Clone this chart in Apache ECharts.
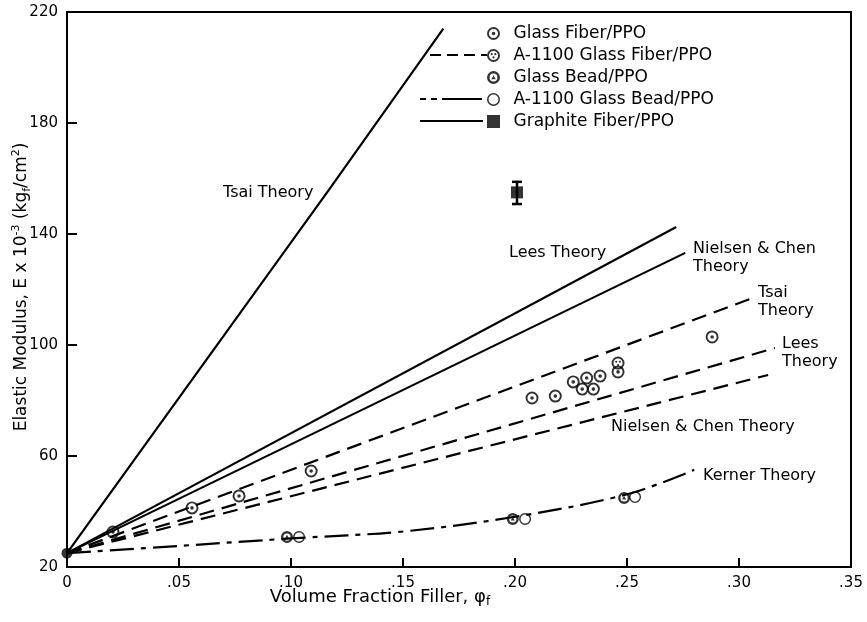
<!DOCTYPE html>
<html>
<head>
<meta charset="utf-8">
<script src="https://cdn.jsdelivr.net/npm/echarts@6/dist/echarts.min.js"></script>
<style>
  html, body { margin: 0; padding: 0; background: #fff; }
  #chart { width: 867px; height: 622px; }
</style>
</head>
<body>
<div id="chart"></div>
<script>
// ---- Axis ticks ----
const xTicks = [0, 0.05, 0.10, 0.15, 0.20, 0.25, 0.30, 0.35];
const xTickLabels = ['0', '.05', '.10', '.15', '.20', '.25', '.30', '.35'];
const yTicks = [20, 60, 100, 140, 180, 220];

// ---- Theory curves (volume fraction, modulus x 10^-3 kgf/cm2) ----
const tsaiFiberPhi = [0, 0.117, 0.168];
const tsaiFiberE = [25, 156, 214];
const leesFiberPhi = [0, 0.272];
const leesFiberE = [25, 142.5];
const nielsenFiberPhi = [0, 0.276];
const nielsenFiberE = [25, 133.2];
const tsaiA1100Phi = [0, 0.305];
const tsaiA1100E = [25, 116.6];
const leesA1100Phi = [0, 0.316];
const leesA1100E = [25, 98.9];
const nielsenA1100Phi = [0, 0.313];
const nielsenA1100E = [25, 89.2];
const kernerPhi = [0, 0.05, 0.10, 0.15, 0.20, 0.25, 0.28];
const kernerE = [25, 27.6, 30.3, 32.8, 38.1, 46.2, 55];

// ---- Measured points ----
const matrixPhi = [0];
const matrixE = [25];
const glassFiberPhi = [0.0205, 0.0558, 0.0768, 0.109, 0.2076, 0.218, 0.226, 0.230, 0.232, 0.235, 0.238, 0.246, 0.288];
const glassFiberE = [32.6, 41.3, 45.6, 54.6, 80.9, 81.6, 86.7, 84.1, 88.1, 84.1, 88.8, 90.3, 102.9];
const a1100FiberPhi = [0.246];
const a1100FiberE = [93.5];
const glassBeadPhi = [0.0982, 0.199, 0.2487];
const glassBeadE = [30.8, 37.3, 44.9];
const a1100BeadPhi = [0.1036, 0.2045, 0.2536];
const a1100BeadE = [30.8, 37.3, 45.2];
const graphitePhi = [0.2009];
const graphiteE = [155];
const graphiteLow = [150.8];
const graphiteHigh = [158.8];

const seriesNames = [
  'Glass Fiber/PPO',
  'A-1100 Glass Fiber/PPO',
  'Glass Bead/PPO',
  'A-1100 Glass Bead/PPO',
  'Graphite Fiber/PPO'
];

const FONT = "'DejaVu Sans', sans-serif";

function pairs(xs, ys) { return xs.map((x, i) => [x, ys[i]]); }

// circle sub-path in a 20x20 box; cw=true for outer fill, false for a hole
function circ(cx, cy, r, cw) {
  const s = cw ? 1 : 0;
  return `M${cx + r},${cy}A${r},${r},0,1,${s},${cx - r},${cy}A${r},${r},0,1,${s},${cx + r},${cy}Z`;
}
const symGlassFiber = 'path://' + circ(10, 10, 10, true) + circ(10, 10, 7, false) + circ(10, 10, 2.8, true);
const symA1100Fiber = 'path://' + circ(10, 10, 10, true) + circ(10, 10, 7, false) +
  circ(7.2, 8, 1.7, true) + circ(12.8, 8, 1.7, true) + circ(10, 13, 1.7, true);
const symGlassBead = 'path://' + circ(10, 10, 10, true) + circ(10, 10, 6, false) +
  'M10,6.4L13.4,12.6L6.6,12.6Z';
const symA1100Bead = 'path://' + circ(10, 10, 10, true) + circ(10, 10, 7.6, false);
const symSquare = 'path://M0,0H10V10H0Z';

function theory(name, xs, ys, dash) {
  return {
    name: name, type: 'line', data: pairs(xs, ys), showSymbol: false, silent: true,
    smooth: xs.length > 3 ? 0.35 : false,
    lineStyle: { color: '#000', width: 2.2, type: dash }, z: 2
  };
}
function points(name, xs, ys, symbol, size) {
  return {
    name: name, type: 'scatter', data: pairs(xs, ys), symbol: symbol, symbolSize: size,
    itemStyle: { color: '#000' }, clip: false, z: 5
  };
}

const chart = echarts.init(document.getElementById('chart'), null, { renderer: 'canvas' });

const baseText = { fontFamily: FONT, fontSize: 16, fill: '#000' };

chart.setOption({
  animation: false,
  backgroundColor: '#fff',
  grid: { left: 67, right: 16, top: 12, bottom: 55, show: true, borderColor: '#000', borderWidth: 2, backgroundColor: 'transparent' },
  xAxis: {
    type: 'value', min: 0, max: 0.35, interval: 0.05,
    axisLine: { lineStyle: { color: '#000', width: 2 } },
    axisTick: { inside: true, length: 9, lineStyle: { color: '#000', width: 2 } },
    splitLine: { show: false },
    axisLabel: {
      color: '#000', fontFamily: FONT, fontSize: 15, margin: 9,
      formatter: v => { const i = xTicks.findIndex(t => Math.abs(t - v) < 1e-9); return i >= 0 ? xTickLabels[i] : ''; }
    }
  },
  yAxis: {
    type: 'value', min: 20, max: 220, interval: 40,
    axisLine: { lineStyle: { color: '#000', width: 2 } },
    axisTick: { inside: true, length: 10, lineStyle: { color: '#000', width: 2 } },
    splitLine: { show: false },
    axisLabel: {
      color: '#000', fontFamily: FONT, fontSize: 15, margin: 9,
      formatter: v => yTicks.indexOf(v) >= 0 ? String(v) : ''
    }
  },
  legend: {
    orient: 'vertical', left: 482, top: 20, itemWidth: 30, itemHeight: 13, itemGap: 5,
    selectedMode: false,
    data: seriesNames.map((n, i) => i === 4 ? { name: n, icon: symSquare } : n),
    textStyle: { color: '#000', fontFamily: FONT, fontSize: 17 }
  },
  series: [
    theory('Tsai Theory (fiber)', tsaiFiberPhi, tsaiFiberE, 'solid'),
    theory('Lees Theory (fiber)', leesFiberPhi, leesFiberE, 'solid'),
    theory('Nielsen & Chen Theory (fiber)', nielsenFiberPhi, nielsenFiberE, 'solid'),
    theory('Tsai Theory (A-1100)', tsaiA1100Phi, tsaiA1100E, [15, 8]),
    theory('Lees Theory (A-1100)', leesA1100Phi, leesA1100E, [15, 8]),
    theory('Nielsen & Chen Theory (A-1100)', nielsenA1100Phi, nielsenA1100E, [15, 8]),
    theory('Kerner Theory', kernerPhi, kernerE, [24, 7, 5, 7]),
    points('PPO', matrixPhi, matrixE, 'circle', 11),
    points(seriesNames[0], glassFiberPhi, glassFiberE, symGlassFiber, 13),
    points(seriesNames[1], a1100FiberPhi, a1100FiberE, symA1100Fiber, 13),
    points(seriesNames[2], glassBeadPhi, glassBeadE, symGlassBead, 12),
    points(seriesNames[3], a1100BeadPhi, a1100BeadE, symA1100Bead, 12),
    points(seriesNames[4], graphitePhi, graphiteE, 'rect', 12),
    {
      name: 'Graphite error', type: 'custom', silent: true, z: 4,
      data: graphitePhi.map((p, i) => [p, graphiteLow[i], graphiteHigh[i]]),
      encode: { x: 0, y: [1, 2] },
      renderItem: (params, api) => {
        const lo = api.coord([api.value(0), api.value(1)]);
        const hi = api.coord([api.value(0), api.value(2)]);
        const cap = 5;
        const st = { stroke: '#000', lineWidth: 2.5 };
        return {
          type: 'group', children: [
            { type: 'line', shape: { x1: lo[0], y1: lo[1], x2: hi[0], y2: hi[1] }, style: st },
            { type: 'line', shape: { x1: lo[0] - cap, y1: lo[1], x2: lo[0] + cap, y2: lo[1] }, style: st },
            { type: 'line', shape: { x1: hi[0] - cap, y1: hi[1], x2: hi[0] + cap, y2: hi[1] }, style: st }
          ]
        };
      }
    }
  ],
  graphic: [
    // line-style samples in the key
    { type: 'line', shape: { x1: 430, y1: 55, x2: 487, y2: 55 }, style: { stroke: '#000', lineWidth: 2.2, lineDash: [11, 6] } },
    { type: 'line', shape: { x1: 420, y1: 99, x2: 483, y2: 99 }, style: { stroke: '#000', lineWidth: 2.2, lineDash: [6, 5, 6, 5, 40, 10] } },
    { type: 'line', shape: { x1: 420, y1: 121, x2: 483, y2: 121 }, style: { stroke: '#000', lineWidth: 2.2 } },
    // curve annotations
    { type: 'text', x: 223, y: 193, style: Object.assign({ text: 'Tsai Theory', verticalAlign: 'middle' }, baseText) },
    { type: 'text', x: 509, y: 253, style: Object.assign({ text: 'Lees Theory', verticalAlign: 'middle' }, baseText) },
    { type: 'text', x: 693, y: 258, style: Object.assign({ text: 'Nielsen & Chen\nTheory', verticalAlign: 'middle', lineHeight: 18 }, baseText) },
    { type: 'text', x: 758, y: 302, style: Object.assign({ text: 'Tsai\nTheory', verticalAlign: 'middle', lineHeight: 18 }, baseText) },
    { type: 'text', x: 782, y: 353, style: Object.assign({ text: 'Lees\nTheory', verticalAlign: 'middle', lineHeight: 18 }, baseText) },
    { type: 'text', x: 611, y: 427, style: Object.assign({ text: 'Nielsen & Chen Theory', verticalAlign: 'middle' }, baseText) },
    { type: 'text', x: 703, y: 476, style: Object.assign({ text: 'Kerner Theory', verticalAlign: 'middle' }, baseText) },
    // axis titles
    {
      type: 'text', x: 380, y: 597,
      style: {
        text: '{a|Volume Fraction Filler, φ}{s|f}', align: 'center', verticalAlign: 'middle',
        rich: {
          a: { fontFamily: FONT, fontSize: 18, fill: '#000', lineHeight: 22 },
          s: { fontFamily: FONT, fontSize: 12, fill: '#000', verticalAlign: 'bottom' }
        }
      }
    },
    {
      type: 'text', x: 22, y: 287, rotation: Math.PI / 2,
      style: {
        text: '{a|Elastic Modulus, E x 10}{p|-3}{a| (kg}{s|f}{a|/cm}{p|2}{a|)}', align: 'center', verticalAlign: 'middle',
        rich: {
          a: { fontFamily: FONT, fontSize: 17, fill: '#000', lineHeight: 22 },
          p: { fontFamily: FONT, fontSize: 11, fill: '#000', verticalAlign: 'top' },
          s: { fontFamily: FONT, fontSize: 11, fill: '#000', verticalAlign: 'bottom' }
        }
      }
    }
  ]
});
</script>
</body>
</html>
